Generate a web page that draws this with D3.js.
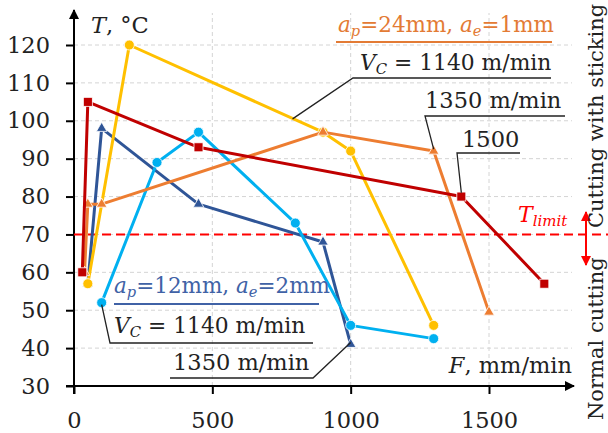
<!DOCTYPE html>
<html>
<head>
<meta charset="utf-8">
<script src="https://cdn.jsdelivr.net/npm/d3@7"></script>
<style>
  body { margin: 0; background: #fff; }
  svg { display: block; font-family: 'DejaVu Serif', serif; }
</style>
</head>
<body>
<div id="viz"></div>
<script>
// feed rate F (mm/min) and temperature T (°C) per test series
const F_TICKS = [0, 500, 1000, 1500];
const T_TICKS = [30, 40, 50, 60, 70, 80, 90, 100, 110, 120];
const T_LIMIT = 70;

// ap = 24 mm, ae = 1 mm
const F_24_1140 = [50, 200, 900, 1000, 1300];
const T_24_1140 = [57, 120, 97, 92, 46];
const F_24_1350 = [38, 50, 100, 900, 1300, 1500];
const T_24_1350 = [60, 78, 78, 97, 92, 49.5];
const F_24_1500 = [30, 50, 450, 1400, 1700];
const T_24_1500 = [60, 105, 93, 80, 57];

// ap = 12 mm, ae = 2 mm
const F_12_1140 = [100, 300, 450, 800, 1000, 1300];
const T_12_1140 = [52, 89, 97, 73, 46, 42.5];
const F_12_1350 = [50, 100, 450, 900, 1000];
const T_12_1350 = [57, 98, 78, 68, 41];

const width = 608;
const height = 433;

const x = d3.scaleLinear().domain([0, 1500]).range([74, 489]);
const y = d3.scaleLinear().domain([30, 120]).range([386, 45]);

const zip = (fs, ts) => fs.map((f, i) => ({ f, t: ts[i] }));

// draw order matters: red square hides the start of the orange line etc.
const series = [
  { pts: zip(F_12_1350, T_12_1350), color: '#2f5597', marker: 'triangle' },
  { pts: zip(F_12_1140, T_12_1140), color: '#00b0f0', marker: 'circle' },
  { pts: zip(F_24_1140, T_24_1140), color: '#ffc000', marker: 'circle' },
  { pts: zip(F_24_1350, T_24_1350), color: '#ed7d31', marker: 'triangle' },
  { pts: zip(F_24_1500, T_24_1500), color: '#c00000', marker: 'square' }
];

const svg = d3.select('#viz')
  .append('svg')
  .attr('width', width)
  .attr('height', height)
  .attr('viewBox', `0 0 ${width} ${height}`);

const defs = svg.append('defs');
const arrowHead = (id, color) => {
  defs.append('marker')
    .attr('id', id)
    .attr('viewBox', '0 0 10 10')
    .attr('refX', 9)
    .attr('refY', 5)
    .attr('markerWidth', 12)
    .attr('markerHeight', 10)
    .attr('markerUnits', 'userSpaceOnUse')
    .attr('orient', 'auto-start-reverse')
    .append('path')
    .attr('d', 'M0,0L10,5L0,10z')
    .attr('fill', color);
};
arrowHead('arrBlack', '#000');
arrowHead('arrRed', '#ff0000');

// grid
const grid = svg.append('g')
  .attr('stroke', '#d4d4d4')
  .attr('stroke-width', 1)
  .attr('stroke-dasharray', '4,3');
grid.selectAll('line.h')
  .data(T_TICKS.slice(1))
  .enter()
  .append('line')
  .attr('x1', x(0)).attr('x2', 572)
  .attr('y1', d => y(d)).attr('y2', d => y(d));
grid.selectAll('line.v')
  .data(F_TICKS.slice(1))
  .enter()
  .append('line')
  .attr('x1', d => x(d)).attr('x2', d => x(d))
  .attr('y1', y(30)).attr('y2', 13);

// axes
const yAxis = svg.append('g')
  .attr('transform', `translate(${x(0)},0)`)
  .call(d3.axisLeft(y).tickValues(T_TICKS).tickSize(8).tickPadding(16));
const xAxis = svg.append('g')
  .attr('transform', `translate(0,${y(30)})`)
  .call(d3.axisBottom(x).tickValues(F_TICKS).tickFormat(d3.format('d')).tickSize(8).tickPadding(18));
[yAxis, xAxis].forEach(a => {
  a.select('.domain').remove();
  a.selectAll('.tick line').attr('stroke', '#000').attr('stroke-width', 2);
  a.selectAll('.tick text')
    .attr('font-family', 'DejaVu Serif')
    .attr('font-size', 22.5)
    .attr('fill', '#222');
});

svg.append('line')
  .attr('x1', x(0)).attr('x2', x(0))
  .attr('y1', y(30) + 8).attr('y2', 10)
  .attr('stroke', '#000').attr('stroke-width', 2)
  .attr('marker-end', 'url(#arrBlack)');
svg.append('line')
  .attr('x1', x(0) - 8).attr('x2', 574)
  .attr('y1', y(30)).attr('y2', y(30))
  .attr('stroke', '#000').attr('stroke-width', 2)
  .attr('marker-end', 'url(#arrBlack)');

// limit line
svg.append('line')
  .attr('x1', x(0)).attr('x2', width)
  .attr('y1', y(T_LIMIT)).attr('y2', y(T_LIMIT))
  .attr('stroke', '#ff0000')
  .attr('stroke-width', 2)
  .attr('stroke-dasharray', '9,5');

// series
const line = d3.line().x(d => x(d.f)).y(d => y(d.t));
const triangle = d3.symbol().type(d3.symbolTriangle).size(48);

series.forEach(s => {
  const g = svg.append('g');
  g.append('path')
    .attr('d', line(s.pts))
    .attr('fill', 'none')
    .attr('stroke', s.color)
    .attr('stroke-width', 3)
    .attr('stroke-linejoin', 'round');
  const m = g.selectAll('.m')
    .data(s.pts)
    .enter();
  let marks;
  if (s.marker === 'circle') {
    marks = m.append('circle')
      .attr('cx', d => x(d.f)).attr('cy', d => y(d.t)).attr('r', 5);
  } else if (s.marker === 'square') {
    marks = m.append('rect')
      .attr('x', d => x(d.f) - 4.5).attr('y', d => y(d.t) - 4.5)
      .attr('width', 9).attr('height', 9);
  } else {
    marks = m.append('path')
      .attr('d', triangle)
      .attr('transform', d => `translate(${x(d.f)},${y(d.t)})`);
  }
  marks
    .attr('fill', s.color)
    .attr('stroke', '#fff')
    .attr('stroke-width', 0.8);
});

// text helper with italic / subscript parts
const label = (px, py, parts, opts = {}) => {
  const size = opts.size || 22.5;
  const t = svg.append('text')
    .attr('x', px).attr('y', py)
    .attr('font-size', size)
    .attr('fill', opts.color || '#222')
    .attr('text-anchor', opts.anchor || 'start');
  parts.forEach(p => {
    const ts = t.append('tspan').text(p.text);
    if (p.italic) ts.attr('font-style', 'italic');
    if (p.sub) ts.attr('font-size', size * 0.68).attr('baseline-shift', '-28%');
  });
  return t;
};

label(91, 33, [{ text: 'T', italic: true }, { text: ', °C' }]);
label(572, 373, [{ text: 'F', italic: true }, { text: ', mm/min' }], { anchor: 'end' });

// annotations, top group
const orange = '#e37b35';
const blue = '#4062a6';
label(338, 32, [
  { text: 'a', italic: true }, { text: 'p', italic: true, sub: true },
  { text: '=24mm, ' }, { text: 'a', italic: true }, { text: 'e', italic: true, sub: true },
  { text: '=1mm' }
], { color: orange, size: 21.5 });
label(360, 70, [{ text: 'V', italic: true }, { text: 'C', italic: true, sub: true }, { text: ' = 1140 m/min' }], { size: 21.8 });
label(425, 108, [{ text: '1350 m/min' }]);
label(462, 147, [{ text: '1500' }]);

label(114, 293, [
  { text: 'a', italic: true }, { text: 'p', italic: true, sub: true },
  { text: '=12mm, ' }, { text: 'a', italic: true }, { text: 'e', italic: true, sub: true },
  { text: '=2mm' }
], { color: blue, size: 21.5 });
label(114, 333, [{ text: 'V', italic: true }, { text: 'C', italic: true, sub: true }, { text: ' = 1140 m/min' }], { size: 21.8 });
label(173, 370, [{ text: '1350 m/min' }]);

const leader = (pts, color, w) => svg.append('path')
  .attr('d', d3.line()(pts))
  .attr('fill', 'none')
  .attr('stroke', color || '#222')
  .attr('stroke-width', w || 1.3);

leader([[336, 42], [552, 42]], orange, 1.8);
leader([[x(790), y(100.5)], [353, 78], [551, 78]]);
leader([[x(1300), y(92.5)], [425, 116], [565, 116]]);
leader([[x(1400), y(81)], [457, 153], [520, 153]]);

leader([[114, 304], [319, 304]], blue, 1.8);
leader([[x(100), y(51.5)], [110, 343], [313, 343]]);
leader([[170, 378], [313, 378], [x(1000), y(41.5)]]);

// limit annotations
label(518, 222, [{ text: 'T', italic: true }, { text: 'limit', italic: true, sub: true }], { color: '#ff0000', size: 22 });
svg.append('line')
  .attr('x1', 586).attr('x2', 586)
  .attr('y1', y(T_LIMIT)).attr('y2', 212)
  .attr('stroke', '#ff0000').attr('stroke-width', 2)
  .attr('marker-end', 'url(#arrRed)');
svg.append('line')
  .attr('x1', 586).attr('x2', 586)
  .attr('y1', y(T_LIMIT)).attr('y2', 265)
  .attr('stroke', '#ff0000').attr('stroke-width', 2)
  .attr('marker-end', 'url(#arrRed)');

svg.append('text')
  .attr('transform', 'translate(603,228) rotate(-90)')
  .attr('font-size', 21)
  .attr('fill', '#222')
  .text('Cutting with sticking');
svg.append('text')
  .attr('transform', 'translate(603,420) rotate(-90)')
  .attr('font-size', 21)
  .attr('fill', '#222')
  .text('Normal cutting');
</script>
</body>
</html>
